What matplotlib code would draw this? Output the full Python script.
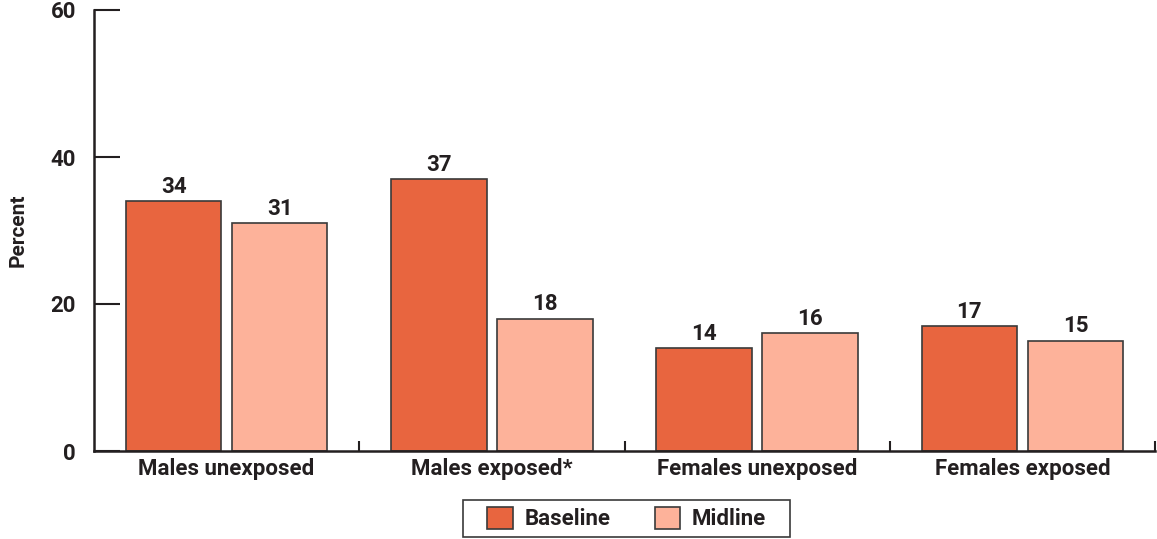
import matplotlib
matplotlib.use("Agg")
import matplotlib.pyplot as plt
from matplotlib.patches import Rectangle
import numpy as np

categories = ["Males unexposed", "Males exposed*", "Females unexposed", "Females exposed"]
series_names = ["Baseline", "Midline"]
baseline = [34, 37, 14, 17]
midline = [31, 18, 16, 15]
y_ticks = [0, 20, 40, 60]

colors = ["#E8653F", "#FDB29A"]
edge = "#3a3a3a"
text_color = "#231F20"

plt.rcParams["font.family"] = ["Roboto", "DejaVu Sans"]
plt.rcParams["font.weight"] = "bold"

W, H = 1157, 539
fig = plt.figure(figsize=(W / 100, H / 100), dpi=100)
ax = fig.add_axes([94 / W, 1 - 451 / H, (1155 - 94) / W, (451 - 10) / H])

centers = np.arange(len(categories)) + 0.5
width = 0.36
offset = 0.2
for vals, off, col, name in zip([baseline, midline], [-offset, offset], colors, series_names):
    ax.bar(centers + off, vals, width=width, color=col, edgecolor=edge,
           linewidth=1.2, label=name, zorder=2)
    for x, v in zip(centers + off, vals):
        ax.text(x, v + 0.45, f"{v}", ha="center", va="bottom", fontsize=16,
                color=text_color, fontweight="bold")

ax.set_xlim(0, 4)
ax.set_ylim(0, 60)
ax.set_yticks(y_ticks)
ax.set_yticklabels([str(t) for t in y_ticks], fontsize=16, color=text_color)
ax.tick_params(axis="y", direction="in", length=19, width=1.5, color=text_color, pad=13)

ax.set_xticks([1, 2, 3, 4])
ax.set_xticklabels([])
ax.tick_params(axis="x", which="major", direction="in", length=7, width=1.5, color=text_color)
ax.set_xticks(centers, minor=True)
ax.set_xticklabels(categories, minor=True, fontsize=16, color=text_color)
ax.tick_params(axis="x", which="minor", length=0, pad=5)

for s in ["top", "right"]:
    ax.spines[s].set_visible(False)
for s in ["left", "bottom"]:
    ax.spines[s].set_linewidth(1.8)
    ax.spines[s].set_color(text_color)

ax.set_ylabel("Percent", fontsize=15, color=text_color, fontweight="bold")
ax.yaxis.set_label_coords(-0.063, 0.5)

# legend entries without frame, boxed by a separate rectangle
leg = fig.legend(loc="center", bbox_to_anchor=(626.5 / W, 1 - 518.5 / H), ncol=2,
                 frameon=False, fontsize=16, handlelength=1.15,
                 handleheight=1.15, handletextpad=0.5, columnspacing=2.0,
                 borderpad=0, borderaxespad=0)
for t in leg.get_texts():
    t.set_color(text_color)
fig.patches.append(Rectangle((463 / W, 1 - 537 / H), (790 - 463) / W, (537 - 500) / H,
                             transform=fig.transFigure, fill=False,
                             edgecolor=edge, linewidth=1.2))

fig.savefig("out.png", dpi=100)
